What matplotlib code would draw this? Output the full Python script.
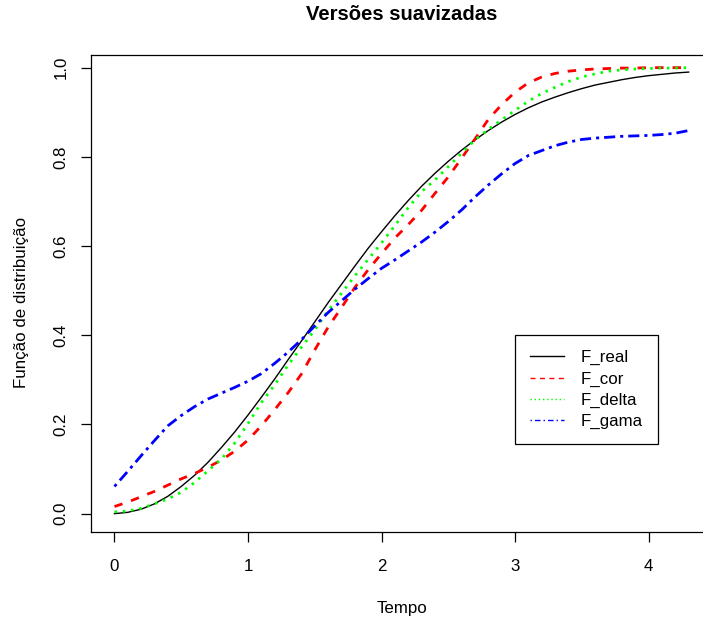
import matplotlib.pyplot as plt
from matplotlib.lines import Line2D

plt.rcParams['font.family'] = ['Liberation Sans', 'DejaVu Sans']

# tempo (eixo x) e as quatro distribuicoes
tempo = [0.0, 0.1, 0.2, 0.3, 0.4, 0.5, 0.6, 0.7, 0.8, 0.9,
         1.0, 1.1, 1.2, 1.3, 1.4, 1.5, 1.6, 1.7, 1.8, 1.9,
         2.0, 2.1, 2.2, 2.3, 2.4, 2.5, 2.6, 2.7, 2.8, 2.9,
         3.0, 3.1, 3.2, 3.3, 3.4, 3.5, 3.6, 3.7, 3.8, 3.9,
         4.0, 4.1, 4.2, 4.3]

F_real = [0.000, 0.003, 0.010, 0.022, 0.039, 0.061, 0.086, 0.115, 0.148, 0.183,
          0.221, 0.261, 0.302, 0.345, 0.387, 0.430, 0.473, 0.514, 0.555, 0.595,
          0.632, 0.668, 0.702, 0.734, 0.763, 0.790, 0.815, 0.838, 0.859, 0.878,
          0.895, 0.910, 0.923, 0.934, 0.944, 0.953, 0.961, 0.967, 0.973, 0.978,
          0.982, 0.985, 0.988, 0.990]

F_cor = [0.016, 0.026, 0.038, 0.050, 0.064, 0.078, 0.090, 0.104, 0.120, 0.140,
         0.165, 0.197, 0.233, 0.271, 0.313, 0.367, 0.418, 0.462, 0.507, 0.547,
         0.583, 0.618, 0.648, 0.680, 0.718, 0.755, 0.797, 0.840, 0.884, 0.917,
         0.945, 0.966, 0.979, 0.987, 0.992, 0.995, 0.997, 0.998, 0.999, 0.999,
         1.000, 1.000, 1.000, 1.000]

F_delta = [0.004, 0.006, 0.012, 0.022, 0.033, 0.048, 0.070, 0.096, 0.122, 0.158,
           0.202, 0.249, 0.289, 0.333, 0.373, 0.412, 0.455, 0.494, 0.533, 0.570,
           0.607, 0.646, 0.686, 0.722, 0.748, 0.778, 0.808, 0.838, 0.862, 0.883,
           0.904, 0.925, 0.942, 0.956, 0.969, 0.979, 0.986, 0.992, 0.995, 0.997,
           0.998, 0.999, 0.999, 1.000]

F_gama = [0.061, 0.095, 0.130, 0.164, 0.197, 0.220, 0.240, 0.257, 0.270, 0.283,
          0.297, 0.314, 0.337, 0.362, 0.390, 0.421, 0.451, 0.477, 0.503, 0.527,
          0.550, 0.569, 0.589, 0.609, 0.631, 0.655, 0.681, 0.710, 0.737, 0.762,
          0.785, 0.803, 0.814, 0.825, 0.833, 0.839, 0.842, 0.844, 0.846, 0.847,
          0.848, 0.850, 0.853, 0.859]

nomes = ['F_real', 'F_cor', 'F_delta', 'F_gama']
xticks = [0, 1, 2, 3, 4]
yticks = [0.0, 0.2, 0.4, 0.6, 0.8, 1.0]

fig = plt.figure(figsize=(7.03, 6.21), dpi=100)
# o quadro do grafico original passa da borda direita da imagem
ax = fig.add_axes([91.5 / 703, (621 - 531.5) / 621, (711.6 - 91.5) / 703, (531.5 - 54.7) / 621])

ax.plot(tempo, F_real, color='black', lw=1.0)
ax.plot(tempo, F_cor, color='#FF0000', lw=2.0, dashes=(3.05, 3.25), dash_capstyle='butt')
ax.plot(tempo, F_delta, color='#00FF00', lw=2.0, dashes=(0.9, 2.1), dash_capstyle='butt')
ax.plot(tempo, F_gama, color='#0000FF', lw=2.0, dashes=(1.1, 1.8, 4.0, 1.8), dash_capstyle='butt')

ax.set_xlim(-0.172, 4.472)
ax.set_ylim(-0.040, 1.029)
ax.set_xticks(xticks)
ax.set_xticklabels([str(t) for t in xticks])
ax.set_yticks(yticks)
ax.set_yticklabels(['%.1f' % t for t in yticks], rotation=90, va='center')
ax.tick_params(axis='x', length=7.2, width=0.9, pad=12.3, labelsize=12.2, direction='out')
ax.tick_params(axis='y', length=7.2, width=0.9, pad=9.4, labelsize=12.2, direction='out')
for s in ax.spines.values():
    s.set_linewidth(0.9)
    s.set_color('black')

ax.set_title('Versões suavizadas', fontsize=14.6, fontweight='bold', y=1.0738, pad=0, va='baseline')
ax.set_xlabel('Tempo', fontsize=12.2, va='baseline')
ax.xaxis.set_label_coords(0.5, -0.170)
ax.set_ylabel('Função de distribuição', fontsize=12.2, va='baseline', ha='center', rotation_mode='anchor')
ax.yaxis.set_label_coords(-0.1064, 0.480)

handles = [
    Line2D([], [], color='black', lw=1.0),
    Line2D([], [], color='#FF0000', lw=1.0, dashes=(3.6, 3.2), dash_capstyle='butt'),
    Line2D([], [], color='#00FF00', lw=1.0, dashes=(1.0, 2.0), dash_capstyle='butt'),
    Line2D([], [], color='#0000FF', lw=1.0, dashes=(1.0, 2.2, 4.0, 2.2), dash_capstyle='butt'),
]
leg = ax.legend(handles, nomes, loc='upper left', bbox_to_anchor=(0.683, 0.412),
                borderaxespad=0, fontsize=12.2, fancybox=False, framealpha=1,
                edgecolor='black', handlelength=2.0, handletextpad=0.98,
                borderpad=0.9, labelspacing=0.36)
leg.get_frame().set_linewidth(0.9)

fig.savefig('out.png', dpi=100)
